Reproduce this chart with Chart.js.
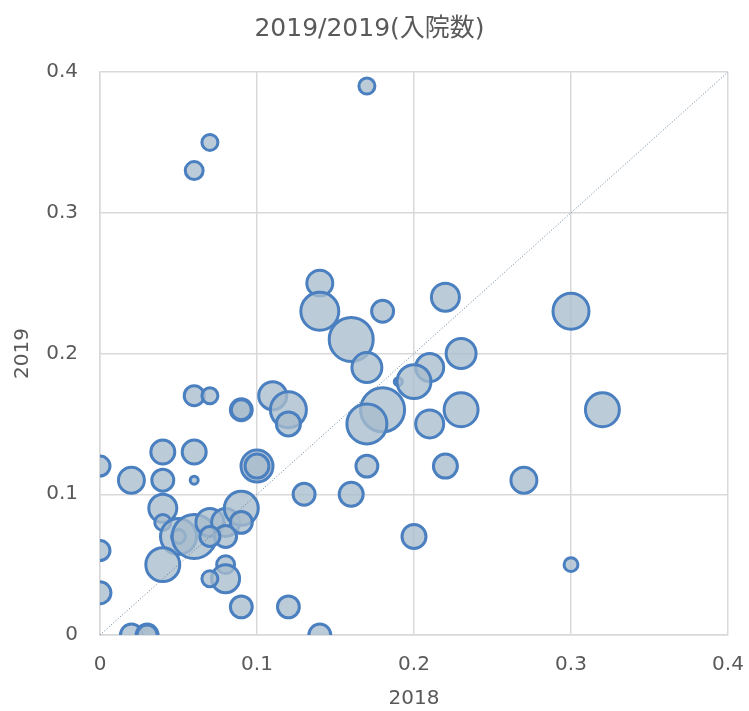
<!DOCTYPE html>
<html>
<head>
<meta charset="utf-8">
<script src="https://cdn.jsdelivr.net/npm/chart.js@4"></script>
<style>
  body { margin: 0; background: #fff; }
  #wrap { width: 749px; height: 711px; }
</style>
</head>
<body>
<div id="wrap"><canvas id="chart1" width="749" height="711"></canvas></div>
<script>
// 2018 ratio, 2019 ratio, bubble size (入院数)
var x2018 = [0.17, 0.07, 0.06, 0.14, 0.22, 0.14, 0.18, 0.30, 0.16, 0.23,
             0.17, 0.21, 0.19, 0.20, 0.18, 0.17, 0.23, 0.32, 0.21, 0.11,
             0.12, 0.12, 0.09, 0.09, 0.06, 0.07, 0.04, 0.06, 0.10, 0.10,
             0.00, 0.02, 0.04, 0.06, 0.17, 0.22, 0.13, 0.16, 0.27, 0.04,
             0.04, 0.05, 0.05, 0.06, 0.07, 0.08, 0.09, 0.09, 0.08, 0.07,
             0.00, 0.04, 0.08, 0.08, 0.07, 0.20, 0.30, 0.00, 0.09, 0.12,
             0.02, 0.03, 0.03, 0.14];
var y2019 = [0.39, 0.35, 0.33, 0.25, 0.24, 0.23, 0.23, 0.23, 0.21, 0.20,
             0.19, 0.19, 0.18, 0.18, 0.16, 0.15, 0.16, 0.16, 0.15, 0.17,
             0.16, 0.15, 0.16, 0.16, 0.17, 0.17, 0.13, 0.13, 0.12, 0.12,
             0.12, 0.11, 0.11, 0.11, 0.12, 0.12, 0.10, 0.10, 0.11, 0.09,
             0.08, 0.07, 0.07, 0.07, 0.08, 0.08, 0.09, 0.08, 0.07, 0.07,
             0.06, 0.05, 0.05, 0.04, 0.04, 0.07, 0.05, 0.03, 0.02, 0.02,
             0.00, 0.00, 0.00, 0.00];
var sizes = [16, 16, 20, 42, 49, 90, 30, 81, 121, 56,
             56, 49, 4, 72, 121, 100, 72, 72, 49, 49,
             81, 36, 30, 25, 25, 16, 36, 36, 64, 36,
             25, 42, 30, 4, 30, 36, 30, 36, 42, 49,
             16, 81, 12, 121, 49, 49, 72, 30, 30, 25,
             25, 72, 20, 49, 16, 36, 12, 30, 30, 30,
             30, 30, 25, 30];
var axisTicks = [0, 0.1, 0.2, 0.3, 0.4];

var bubbles = [];
for (var i = 0; i < x2018.length; i++) {
    bubbles.push({ x: x2018[i], y: y2019[i], r: 2 * Math.sqrt(sizes[i]) });
}

var grey = '#595959';
var font = '"DejaVu Sans", "Noto Sans CJK JP", sans-serif';

function setTicks(axis) {
    axis.ticks = axisTicks.map(function(v) { return { value: v }; });
}

var ctx1 = document.getElementById('chart1').getContext('2d');
var chart1 = new Chart(ctx1, {
    type: 'bubble',
    data: {
        datasets: [{
            type: 'line',
            label: 'y=x',
            data: [{ x: axisTicks[0], y: axisTicks[0] }, { x: axisTicks[4], y: axisTicks[4] }],
            borderColor: '#5f7f9a',
            borderWidth: 1,
            borderDash: [1, 2],
            pointRadius: 0,
            fill: false,
            order: 0
        }, {
            label: '入院数',
            data: bubbles,
            backgroundColor: 'rgba(168,188,204,0.78)',
            borderColor: '#4a7fc0',
            borderWidth: 3,
            clip: 0,
            order: 1
        }]
    },
    options: {
        responsive: false,
        animation: false,
        layout: { autoPadding: false, padding: { left: 11, right: 21, top: 8, bottom: 0 } },
        plugins: {
            legend: { display: false },
            tooltip: { enabled: false },
            title: {
                display: true,
                text: '2019/2019(入院数)',
                color: grey,
                font: { family: font, size: 25, weight: 'normal' },
                padding: { top: 6, bottom: 28 }
            }
        },
        scales: {
            x: {
                type: 'linear',
                min: 0, max: 0.4,
                afterBuildTicks: setTicks,
                afterFit: function(scale) {
                    scale.height = 76;
                    scale.paddingLeft = 0;
                    scale.paddingRight = 0;
                },
                ticks: {
                    color: grey, padding: 18,
                    font: { family: font, size: 20 },
                    callback: function(v) { return String(+v.toFixed(1)); }
                },
                grid: { color: '#d9d9d9', lineWidth: 1.5, drawTicks: false },
                border: { color: '#d9d9d9', width: 1.5 },
                title: { display: true, text: '2018', color: grey, font: { family: font, size: 20 }, padding: { top: 10, bottom: 0 } }
            },
            y: {
                type: 'linear',
                min: 0, max: 0.4,
                afterBuildTicks: setTicks,
                afterFit: function(scale) {
                    scale.width = 89;
                    scale.paddingTop = 0;
                    scale.paddingBottom = 0;
                },
                ticks: {
                    color: grey, padding: 22,
                    font: { family: font, size: 20 },
                    callback: function(v) { return String(+v.toFixed(1)); }
                },
                grid: { color: '#d9d9d9', lineWidth: 1.5, drawTicks: false },
                border: { color: '#d9d9d9', width: 1.5 },
                title: { display: true, text: '2019', color: grey, font: { family: font, size: 20 }, padding: { top: 0, bottom: 11 } }
            }
        }
    }
});
</script>
</body>
</html>
